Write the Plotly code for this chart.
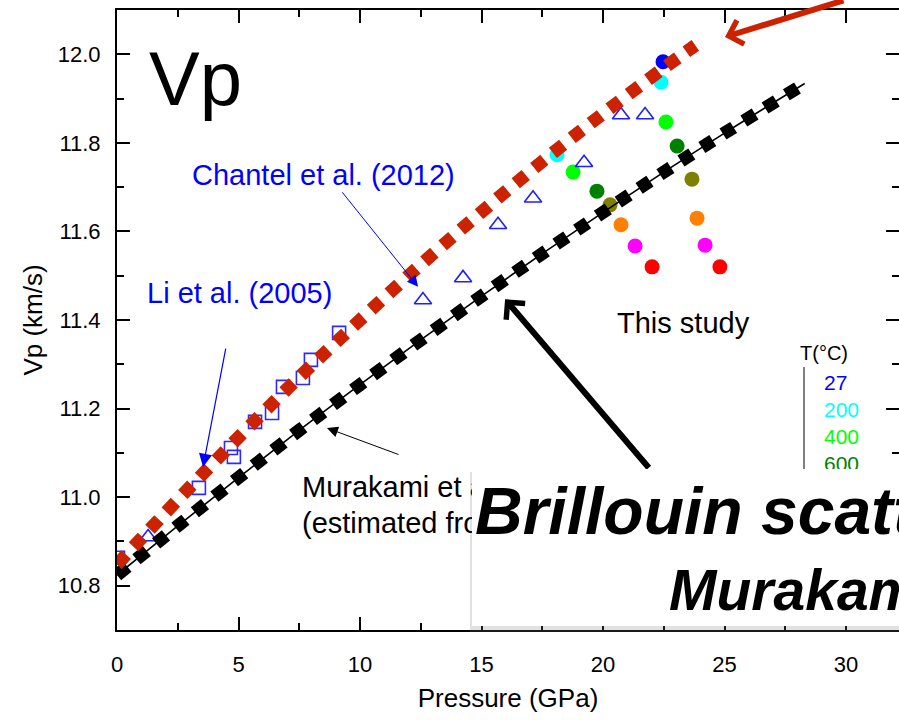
import plotly.graph_objects as go

# ---------------- data ----------------
# red dotted fit curve (upper)
red_p = [0, 2.5, 5, 7.5, 10, 12.5, 15, 17.5, 20, 22.5, 23.8]
red_v = [10.848, 10.994, 11.135, 11.271, 11.400, 11.525, 11.644, 11.758, 11.866, 11.969, 12.020]
# Murakami et al. (black line)
mur_p = [0, 2.5, 5, 7.5, 10, 12.5, 15, 17.5, 20, 22.5, 25, 28.3]
mur_v = [10.824, 10.935, 11.044, 11.151, 11.254, 11.355, 11.454, 11.550, 11.643, 11.734, 11.822, 11.934]
# Li et al. (2005) - open squares
li_p = [0.04, 3.37, 4.69, 4.81, 5.68, 6.38, 6.83, 7.65, 7.98, 9.14]
li_v = [10.863, 11.021, 11.111, 11.091, 11.170, 11.190, 11.249, 11.269, 11.310, 11.371]
# Chantel et al. (2012) - open triangles
ch_p = [1.28, 12.59, 14.24, 15.68, 17.12, 19.22, 20.74, 21.73]
ch_v = [10.910, 11.445, 11.495, 11.615, 11.675, 11.755, 11.863, 11.863]
# This study - filled circles by temperature
temps = ["27", "200", "400", "600", "800", "1000", "1200", "1400"]
temp_colors = ["#0000ff", "#00ffff", "#00ff00", "#008000", "#808000", "#ff8000", "#ff00ff", "#ff0000"]
study_p = [[22.47], [22.39, 18.11], [22.59, 18.77], [23.05, 19.75],
           [23.66, 20.29], [23.87, 20.74], [24.20, 21.32], [24.81, 22.02]]
study_v = [[11.983], [11.937, 11.773], [11.847, 11.734], [11.793, 11.691],
           [11.718, 11.660], [11.630, 11.615], [11.569, 11.567], [11.520, 11.520]]
legend_temps = ["27", "200", "400", "600"]

FONT = "Liberation Sans, Arial, sans-serif"

fig = go.Figure()

for t, c, px_, vv in zip(temps, temp_colors, study_p, study_v):
    fig.add_trace(go.Scatter(x=px_, y=vv, mode="markers", name=t,
                             marker=dict(symbol="circle", size=15, color=c, line=dict(width=0))))

fig.add_trace(go.Scatter(x=li_p, y=li_v, mode="markers", name="Li et al. (2005)",
                         marker=dict(symbol="square-open", size=13, color="#2b2bff", line=dict(width=1.6))))
fig.add_trace(go.Scatter(x=ch_p, y=ch_v, mode="markers", name="Chantel et al. (2012)",
                         marker=dict(symbol="triangle-up-open", size=15, color="#1f1fff", line=dict(width=1.6))))

fig.add_trace(go.Scatter(x=mur_p, y=mur_v, mode="lines", line=dict(color="black", width=1.6),
                         line_shape="spline"))
fig.add_trace(go.Scatter(x=mur_p, y=mur_v, mode="lines", line=dict(color="black", width=13, dash="13px,12px"),
                         line_shape="spline"))
fig.add_trace(go.Scatter(x=red_p, y=red_v, mode="lines", line=dict(color="#cc2200", width=13, dash="13px,11px"),
                         line_shape="spline"))
# anchor trace for right axis ticks
fig.add_trace(go.Scatter(x=[0], y=[11], mode="none", yaxis="y2", hoverinfo="skip"))

axis_common = dict(showgrid=False, zeroline=False, linecolor="black", linewidth=2,
                   ticks="inside", ticklen=13, tickwidth=2, tickcolor="black")

fig.update_layout(
    width=899, height=720,
    margin=dict(l=117, r=0, t=10, b=90),
    paper_bgcolor="white", plot_bgcolor="white",
    showlegend=False,
    font=dict(family=FONT, color="black"),
    xaxis=dict(range=[0, 32.18], showline=True, mirror="ticks", dtick=5, tick0=0,
               minor=dict(dtick=2.5, ticklen=7, tickwidth=2, ticks="inside", tickcolor="black"),
               tickfont=dict(size=22, family=FONT), ticklabelstandoff=14,
               title=dict(text="Pressure (GPa)", font=dict(size=26, family=FONT), standoff=12),
               **axis_common),
    yaxis=dict(range=[10.7, 12.1], showline=True, mirror=False, dtick=0.2, tick0=10.8,
               tickformat=".1f",
               minor=dict(dtick=0.1, ticklen=7, tickwidth=2, ticks="inside", tickcolor="black"),
               tickfont=dict(size=22, family=FONT), ticklabelstandoff=10,
               title=dict(text="Vp (km/s)", font=dict(size=26, family=FONT), standoff=8),
               **axis_common),
    yaxis2=dict(range=[10.7, 12.1], overlaying="y", side="right", showline=False,
                dtick=0.2, tick0=10.8, showticklabels=False,
                minor=dict(dtick=0.1, ticklen=7, tickwidth=2, ticks="inside", tickcolor="black"),
                showgrid=False, zeroline=False, ticks="inside", ticklen=13, tickwidth=2,
                tickcolor="black"),
)

# legend vertical line for T(°C)
fig.add_shape(type="line", xref="paper", yref="paper",
              x0=(804 - 117) / 782, x1=(804 - 117) / 782,
              y0=(630 - 367) / 620, y1=(630 - 480) / 620,
              line=dict(color="black", width=1))

ann = []


def label(text, x, y, size, color="black", xanchor="left"):
    ann.append(dict(text=text, x=x, y=y, xref="x", yref="y", showarrow=False,
                    xanchor=xanchor, yanchor="middle",
                    font=dict(size=size, color=color, family=FONT)))


label("Vp", 1.23, 11.945, 76)
label("Chantel et al. (2012)", 3.0, 11.727, 29, "#0000ff")
label("Li et al. (2005)", 1.15, 11.461, 29, "#0000ff")
label("This study", 20.49, 11.393, 29)
label("Murakami et al.", 7.53, 11.023, 29)
label("(estimated from Vs)", 7.53, 10.942, 29)
label("T(°C)", 28.02, 11.325, 20)
for t, yv in zip(legend_temps, [11.26, 11.199, 11.136, 11.077]):
    label(t, 29.0, yv, 21, temp_colors[temps.index(t)])


def arrow(x, y, ax, ay, color, width, head, size):
    ann.append(dict(text="", x=x, y=y, xref="x", yref="y", ax=ax, ay=ay,
                    showarrow=True, arrowcolor=color, arrowwidth=width,
                    arrowhead=head, arrowsize=size, standoff=0, startstandoff=0))


arrow(12.39, 11.475, -77, -96, "#0000ff", 1, 2, 2.2)
arrow(3.54, 11.068, 23, -120, "#0000ff", 1.2, 2, 2.2)
arrow(8.64, 11.156, 73, 27, "black", 1, 2, 2.2)
arrow(25.02, 12.039, 120, -47, "#cc2200", 6, 4, 0.8)
arrow(15.97, 11.447, 145, 170, "black", 6, 4, 0.8)

# overlay box with soft shadow (drawn above everything before it)
ann.append(dict(text=" ", xref="paper", yref="paper", x=(470 - 117) / 782, y=(630 - 472) / 620,
                xanchor="left", yanchor="top", width=470, height=160, showarrow=False,
                bgcolor="rgba(120,120,120,0.22)", borderpad=0, borderwidth=0))
ann.append(dict(text=" ", xref="paper", yref="paper", x=(472 - 117) / 782, y=(630 - 469) / 620,
                xanchor="left", yanchor="top", width=470, height=157, showarrow=False,
                bgcolor="white", borderpad=0, borderwidth=0))
ann.append(dict(text="<b><i>Brillouin scattering</i></b>", xref="paper", yref="paper",
                x=(473 - 117) / 782, y=(630 - 511) / 620, xanchor="left", yanchor="middle",
                showarrow=False, font=dict(size=66, color="black", family=FONT)))
ann.append(dict(text="<b><i>Murakami et al.</i></b>", xref="paper", yref="paper",
                x=(667 - 117) / 782, y=(630 - 590) / 620, xanchor="left", yanchor="middle",
                showarrow=False, font=dict(size=57, color="black", family=FONT)))

fig.update_layout(annotations=ann)

fig.write_html("out.html")
